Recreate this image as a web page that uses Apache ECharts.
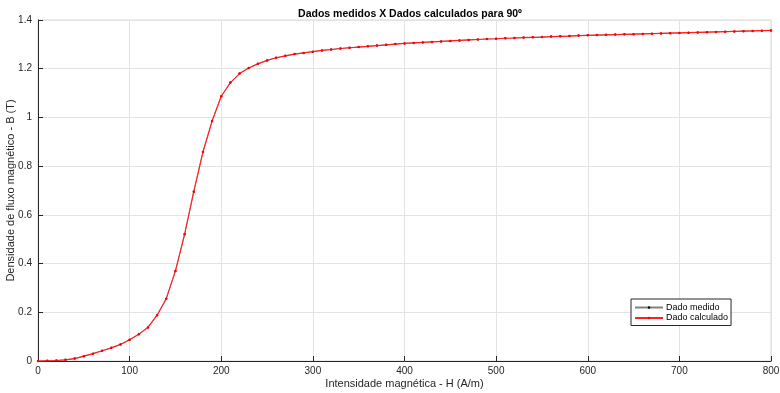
<!DOCTYPE html>
<html><head><meta charset="utf-8">
<script src="https://cdn.jsdelivr.net/npm/echarts@6/dist/echarts.min.js"></script>
<style>html,body{margin:0;padding:0;background:#fff}#c{width:780px;height:393px}</style>
</head><body><div id="c"></div>
<script>
const H = [0,10,20,30,40,50,60,70,80,90,100,110,120,130,140,150,160,170,180,190,200,210,220,230,240,250,260,270,280,290,300,310,320,330,340,350,360,370,380,390,400,410,420,430,440,450,460,470,480,490,500,510,520,530,540,550,560,570,580,590,600,610,620,630,640,650,660,670,680,690,700,710,720,730,740,750,760,770,780,790,800];
const Bmedido = [0,0.001,0.002,0.005,0.01,0.02,0.03,0.042,0.054,0.068,0.087,0.11,0.138,0.188,0.256,0.37,0.52,0.695,0.858,0.985,1.087,1.143,1.18,1.203,1.22,1.234,1.245,1.253,1.26,1.265,1.27,1.275,1.279,1.283,1.286,1.289,1.292,1.295,1.298,1.301,1.304,1.306,1.308,1.31,1.312,1.314,1.316,1.318,1.32,1.322,1.323,1.325,1.326,1.328,1.329,1.33,1.332,1.333,1.334,1.336,1.337,1.338,1.339,1.34,1.341,1.342,1.343,1.344,1.345,1.346,1.347,1.348,1.349,1.35,1.351,1.352,1.353,1.354,1.355,1.356,1.357];
const Bcalculado = Bmedido.slice();
const seriesNames = ['Dado medido','Dado calculado'];
const titleText = 'Dados medidos X Dados calculados para 90º';
const xName = 'Intensidade magnética - H (A/m)';
const yName = 'Densidade de fluxo magnético - B (T)';

const chart = echarts.init(document.getElementById('c'));
const font = 'Liberation Sans, Arial, sans-serif';
const axisCommon = {
  axisLine:{show:true,lineStyle:{color:'#262626',width:1}},
  axisTick:{show:true,inside:true,length:5,lineStyle:{color:'#262626'}},
  splitLine:{show:true,lineStyle:{color:'#e3e3e3',width:1}},
  nameMoveOverlap:false,
  nameTextStyle:{color:'#262626',fontSize:11,fontFamily:font}
};
chart.setOption({
  animation:false,
  backgroundColor:'#fff',
  title:{text:titleText,left:405,textAlign:'center',top:4,textStyle:{fontSize:10.5,fontWeight:'bold',color:'#000',fontFamily:font}},
  grid:{left:38,right:9,top:20,bottom:32,outerBoundsMode:'none',containLabel:false,show:true,borderColor:'#d9d9d9',borderWidth:1},
  legend:{orient:'vertical',left:631,top:299,itemWidth:28,itemHeight:3,itemGap:1.5,padding:[4,3,3,3],
    backgroundColor:'#fff',borderColor:'#262626',borderWidth:1,
    textStyle:{fontSize:9,lineHeight:9,color:'#000',fontFamily:font,padding:[0,0,0,-2]},
    data:seriesNames},
  xAxis:Object.assign({type:'value',min:0,max:800,interval:100,name:xName,nameLocation:'middle',nameGap:17,
    axisLabel:{color:'#262626',fontSize:10,fontFamily:font,margin:5}},axisCommon),
  yAxis:Object.assign({type:'value',min:0,max:1.4,interval:0.2,name:yName,nameLocation:'middle',nameGap:22,
    axisLabel:{color:'#262626',fontSize:10,fontFamily:font,margin:6}},axisCommon),
  series:[
    {name:seriesNames[0],type:'line',z:2,data:H.map((h,i)=>[h,Bmedido[i]]),symbol:'circle',symbolSize:2,
      lineStyle:{color:'#808080',width:0.8},itemStyle:{color:'#000'},color:'#000'},
    {name:seriesNames[1],type:'line',z:3,data:H.map((h,i)=>[h,Bcalculado[i]]),symbol:'circle',symbolSize:2.5,
      lineStyle:{color:'#ff2020',width:1.2},itemStyle:{color:'#ff0000'},color:'#ff0000'}
  ]
});
</script></body></html>
